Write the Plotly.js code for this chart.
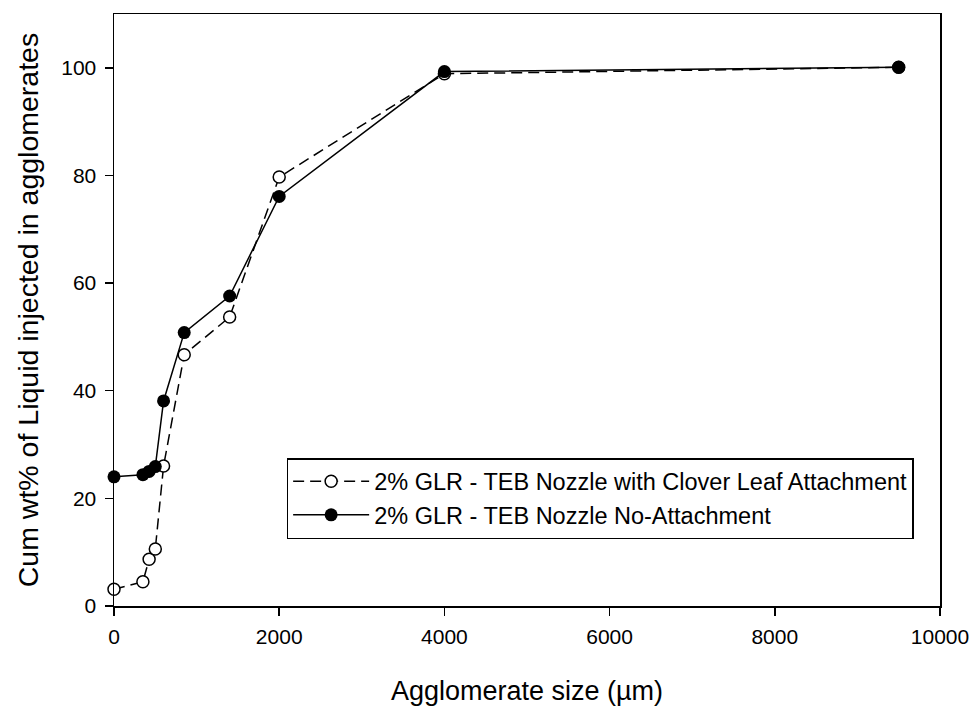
<!DOCTYPE html>
<html>
<head>
<meta charset="utf-8">
<script src="https://cdn.plot.ly/plotly-3.0.1.min.js"></script>
<style>html,body{margin:0;padding:0;background:#fff;}#chart{width:973px;height:711px;}</style>
</head>
<body>
<div id="chart"></div>
<script>
// Agglomerate size (µm)
const sizeClover = [0, 350, 425, 500, 600, 850, 1400, 2000, 4000, 9500];
const cumClover  = [3.1, 4.5, 8.7, 10.6, 26.0, 46.7, 53.7, 79.7, 98.9, 100.1];
const sizeNoAtt  = [0, 350, 425, 500, 600, 850, 1400, 2000, 4000, 9500];
const cumNoAtt   = [24.0, 24.4, 25.0, 25.9, 38.1, 50.8, 57.6, 76.1, 99.3, 100.1];
const seriesNames = [
  "2% GLR - TEB Nozzle with Clover Leaf Attachment",
  "2% GLR - TEB Nozzle No-Attachment"
];
const xTicks = [0, 2000, 4000, 6000, 8000, 10000];
const yTicks = [0, 20, 40, 60, 80, 100];

const FONT = "Arial, 'Liberation Sans', Helvetica, sans-serif";

const traces = [
  {
    x: sizeClover, y: cumClover, name: seriesNames[0],
    type: "scatter", mode: "lines+markers",
    line: {color: "#000", width: 1.5, dash: "11px,6px"},
    marker: {symbol: "circle", size: 12, color: "#fff", line: {color: "#000", width: 1.5}},
    cliponaxis: false
  },
  {
    x: sizeNoAtt, y: cumNoAtt, name: seriesNames[1],
    type: "scatter", mode: "lines+markers",
    line: {color: "#000", width: 1.5},
    marker: {symbol: "circle", size: 13, color: "#000", line: {color: "#000", width: 0}},
    cliponaxis: false
  }
];

const layout = {
  width: 973, height: 711,
  margin: {l: 114, r: 33, t: 14, b: 105},
  paper_bgcolor: "#fff", plot_bgcolor: "#fff",
  font: {family: FONT, color: "#000", size: 21},
  showlegend: true,
  legend: {
    x: 0.209, y: 0.25, xanchor: "left", yanchor: "top",
    bgcolor: "rgba(255,255,255,0)", bordercolor: "#000", borderwidth: 1.5,
    font: {family: FONT, size: 23.5, color: "#000"},
    tracegroupgap: 0, itemwidth: 76
  },
  xaxis: {
    range: [0, 10000], tickvals: xTicks, ticktext: xTicks.map(String),
    ticks: "outside", ticklen: 8, tickwidth: 1.5, tickcolor: "#000",
    showline: true, linecolor: "#000", linewidth: 1.5, mirror: true,
    showgrid: false, zeroline: false,
    tickfont: {family: FONT, size: 21},
    ticklabelstandoff: 3,
    title: {text: "Agglomerate size (\u00b5m)", font: {family: FONT, size: 27}, standoff: 34}
  },
  yaxis: {
    range: [0, 110], tickvals: yTicks, ticktext: yTicks.map(String),
    ticks: "outside", ticklen: 8, tickwidth: 1.5, tickcolor: "#000",
    showline: true, linecolor: "#000", linewidth: 1.5, mirror: true,
    showgrid: false, zeroline: false,
    tickfont: {family: FONT, size: 21},
    ticklabelstandoff: 4,
    title: {text: "Cum wt% of Liquid injected in agglomerates", font: {family: FONT, size: 28.5}, standoff: 14}
  }
};

Plotly.newPlot("chart", traces, layout, {displayModeBar: false, staticPlot: true});
</script>
</body>
</html>
